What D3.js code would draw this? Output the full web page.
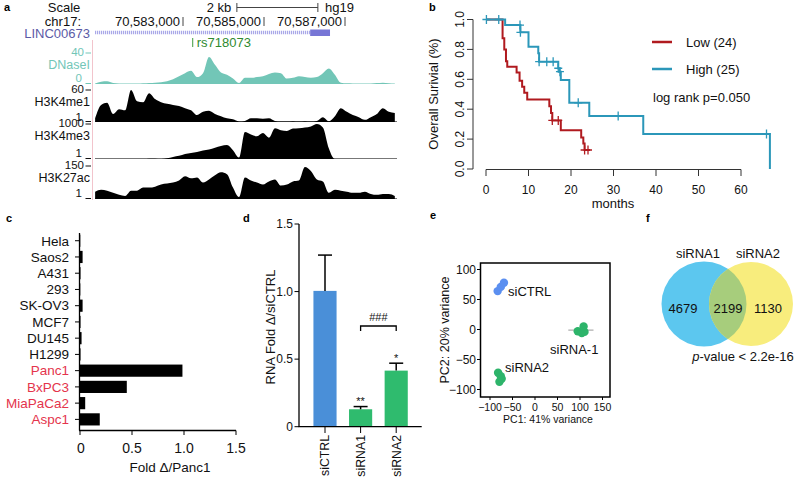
<!DOCTYPE html>
<html><head><meta charset="utf-8">
<script src="https://cdn.jsdelivr.net/npm/d3@7"></script>
<style>body{margin:0;background:#fff}svg{display:block}text{font-family:"Liberation Sans",Arial,sans-serif}</style>
</head><body><svg id="c" width="800" height="478"></svg>
<script>
// ================= DATA =================
// Panel a: genome browser
const genomeTicks = [70583000, 70585000, 70587000];
const binStart = 70580830, binSize = 148;
const scaleBar = [70584330, 70586330];
const gene = {name: "LINC00673", start: 70580600, exonStart: 70586140, end: 70586630};
const snp = {name: "rs718073", pos: 70583240};
const trackNames = ["DNaseI", "H3K4me1", "H3K4me3", "H3K27ac"];
const trackMax = [40, 60, 1000, 150];
const dnase = [0.6,3,3.5,1.2,0.6,0.6,0.6,0.6,0.9,1.2,1.7,2.3,3.5,6,10,14,17,9,14,35,25,15,12,7,1.2,8,8,9,10,13,15,14,7,8,10,9,8,9,14,20,12,1.7,0.9,0.7,0.7,0.6,0.7,1.2,1.7,0.9,0.6];
const h3k4me1 = [7,32,36,15,24,22,60,39,37,54,43,37,34,32,30,26,22,13,19,21,15,11,7,5,1,2,7,7,6,7,2,1,1,1.5,1,1.5,1,2,9,1.5,11,26,19,13,9,4,9,15,26,19,17];
const h3k4me3 = [0,0,0,0,0,0,0,0,0,10,10,0,20,60,90,140,170,200,240,270,320,370,400,250,40,770,700,650,740,610,880,820,800,870,880,900,930,1000,900,300,0,0,0,0,0,0,0,0,0,0,0];
const h3k27ac = [33,42,38,28,19,14,38,38,52,52,56,66,70,75,84,103,94,98,75,89,108,122,113,52,9,98,84,75,66,80,89,61,66,80,84,145,127,89,80,28,42,38,33,28,28,33,23,19,23,23,14];

// Panel b: Kaplan-Meier
const lowSteps = [[0,1],[3.9,0.875],[4.3,0.80],[4.7,0.72],[5.0,0.684],[7.2,0.645],[7.9,0.59],[8.5,0.55],[9.0,0.51],[9.7,0.465],[14.9,0.42],[15.3,0.375],[15.6,0.325],[17.6,0.26],[22.4,0.21],[22.9,0.17],[23.2,0.127],[24.5,0.127]];
const lowCensor = [[15.6,0.325],[17.0,0.325],[23.2,0.127],[24.0,0.127]];
const highSteps = [[0,1],[4.5,0.963],[8.1,0.914],[10.0,0.818],[12.3,0.774],[12.5,0.718],[17.0,0.674],[17.3,0.651],[17.6,0.595],[19.6,0.443],[24.3,0.355],[37.0,0.234],[66.8,0],[66.8,0]];
const highCensor = [[0.1,1],[3.0,1],[8.0,0.963],[8.1,0.914],[12.5,0.718],[14.3,0.718],[15.8,0.718],[17.0,0.674],[17.4,0.651],[21.7,0.443],[31.1,0.355],[66.0,0.234]];
const kmLegend = ["Low (24)", "High (25)"];
const kmTicksX = [0,10,20,30,40,50,60];
const kmTicksY = [0,0.2,0.4,0.6,0.8,1.0];

// Panel c: cell lines
const cellLines = ["Hela","Saos2","A431","293","SK-OV3","MCF7","DU145","H1299","Panc1","BxPC3","MiaPaCa2","Aspc1"];
const cellValues = [0.003,0.025,0.005,0.003,0.025,0.005,0.015,0.005,0.985,0.45,0.05,0.19];
const cellPancreatic = [false,false,false,false,false,false,false,false,true,true,true,true];
const cellTicks = [0,0.5,1.0,1.5];

// Panel d: knockdown
const kdGroups = ["siCTRL","siRNA1","siRNA2"];
const kdMeans = [1.005,0.129,0.415];
const kdErr = [0.265,0.02,0.055];
const kdStars = ["","**","*"];
const kdTicks = [0,0.5,1.0,1.5];

// Panel e: PCA
const pcaCTRL = [[-83,64],[-76,71],[-69,78]];
const pcaRNA1 = [[95,-3],[104,-6],[110,-4],[108,5]];
const pcaRNA2 = [[-82,-72],[-76,-78],[-79,-87],[-74,-82]];
const pcaTicksX = [-100,-50,0,50,100,150];
const pcaTicksY = [-100,-50,0,50,100];

// Panel f: Venn
const vennSets = ["siRNA1","siRNA2"];
const vennCounts = [4679, 2199, 1130];

// ================= DRAW =================
const svg = d3.select("#c");
svg.append("rect").attr("width",800).attr("height",478).attr("fill","#fff");
function T(g, x, y, s, o) {
  o = o || {};
  const t = g.append("text").attr("x", x).attr("y", y).text(s)
    .attr("font-size", o.size || 13).attr("fill", o.fill || "#111");
  if (o.anchor) t.attr("text-anchor", o.anchor);
  if (o.weight) t.attr("font-weight", o.weight);
  if (o.tr) t.attr("transform", o.tr);
  return t;
}
function letter(x, y, s) { T(svg, x, y, s, {size: 11, weight: "bold", fill: "#000"}); }

// ---------- Panel a ----------
(function(){
  const g = svg.append("g");
  const gx = d3.scaleLinear().domain([70583000, 70587000]).range([183, 345]);
  letter(4, 11, "a");
  T(g, 64, 11.5, "Scale", {anchor:"middle"});
  T(g, 219, 11.5, "2 kb", {anchor:"middle"});
  const sb0 = gx(scaleBar[0]), sb1 = gx(scaleBar[1]);
  g.append("line").attr("x1",sb0).attr("x2",sb1).attr("y1",7.5).attr("y2",7.5).attr("stroke","#444");
  [sb0, sb1].forEach(x => g.append("line").attr("x1",x).attr("x2",x).attr("y1",3).attr("y2",12).attr("stroke","#444"));
  T(g, 325, 11.5, "hg19");
  T(g, 81, 26, "chr17:", {anchor:"end"});
  genomeTicks.forEach(p => {
    T(g, gx(p) - 3, 26, d3.format(",")(p), {anchor:"end"});
    g.append("line").attr("x1",gx(p)).attr("x2",gx(p)).attr("y1",17).attr("y2",26).attr("stroke","#444");
  });
  // gene
  T(g, 90, 37.5, gene.name, {anchor:"end", fill:"#5b5aa6"});
  g.append("line").attr("x1",95).attr("x2",gx(gene.exonStart)).attr("y1",32.5).attr("y2",32.5)
    .attr("stroke","#a9a8e8").attr("stroke-width",3.5).attr("stroke-dasharray","1.2,0.8");
  g.append("rect").attr("x",gx(gene.exonStart)).attr("y",29.5).attr("width",gx(gene.end)-gx(gene.exonStart)).attr("height",6.5).attr("fill","#7776d6");
  // SNP
  g.append("line").attr("x1",gx(snp.pos)).attr("x2",gx(snp.pos)).attr("y1",38).attr("y2",47).attr("stroke","#3b9a3b");
  T(g, gx(snp.pos)+4, 47, snp.name, {fill:"#2f8a2f"});
  // pink axis line
  g.append("line").attr("x1",92.5).attr("x2",92.5).attr("y1",40).attr("y2",200).attr("stroke","#f2c4cc");
  // tracks
  const tracks = [dnase, h3k4me1, h3k4me3, h3k27ac];
  const tops = [53, 90, 124, 166];
  const bases = [84, 122, 159, 199];
  const maxY = [55.5, 92.5, 126.5, 168.5];
  const nameY = [69, 105.5, 140, 182];
  const lowY = [82, 121, 157, 197];
  const colors = ["#72c6b7", "#000", "#000", "#000"];
  const labCol = ["#72c6b7", "#111", "#111", "#111"];
  const lowLab = ["0","1","1","1"];
  tracks.forEach((vals, k) => {
    const ty = d3.scaleLinear().domain([0, trackMax[k]]).range([bases[k], tops[k]]).clamp(true);
    const area = d3.area().x((d,i) => gx(binStart + i*binSize)).y0(bases[k]).y1(d => ty(d)).curve(d3.curveMonotoneX);
    if (k > 0) g.append("line").attr("x1",95).attr("x2",397).attr("y1",bases[k]-0.5).attr("y2",bases[k]-0.5).attr("stroke","#777").attr("stroke-width",1);
    g.append("path").datum(vals).attr("d", area).attr("fill", colors[k]);
    T(g, 84, maxY[k], String(trackMax[k]), {anchor:"end", fill: labCol[k], size:11.5});
    g.append("line").attr("x1",85.5).attr("x2",91).attr("y1",tops[k]).attr("y2",tops[k]).attr("stroke",labCol[k]);
    T(g, 90, nameY[k], trackNames[k], {anchor:"end", fill: labCol[k], size:12.5});
    T(g, 82, lowY[k], lowLab[k], {anchor:"end", fill: labCol[k], size:11.5});
    g.append("line").attr("x1",85.5).attr("x2",91).attr("y1",bases[k]-0.5).attr("y2",bases[k]-0.5).attr("stroke",labCol[k]);
  });
})();

// ---------- Panel b ----------
(function(){
  const g = svg.append("g");
  letter(429, 11, "b");
  const sx = d3.scaleLinear().domain([0,60]).range([486,741]);
  const sy = d3.scaleLinear().domain([0,1]).range([169,19.5]);
  g.append("line").attr("x1",473).attr("x2",473).attr("y1",sy(0)).attr("y2",sy(1)).attr("stroke","#333");
  kmTicksY.forEach(v => {
    g.append("line").attr("x1",467).attr("x2",473).attr("y1",sy(v)).attr("y2",sy(v)).attr("stroke","#333");
    T(g, 0, 0, d3.format(".1f")(v), {anchor:"middle", size:12, tr:`translate(464,${sy(v)}) rotate(-90)`});
  });
  g.append("line").attr("x1",sx(0)).attr("x2",sx(60)).attr("y1",169.5).attr("y2",169.5).attr("stroke","#333");
  kmTicksX.forEach(v => {
    g.append("line").attr("x1",sx(v)).attr("x2",sx(v)).attr("y1",169.5).attr("y2",176).attr("stroke","#333");
    T(g, sx(v), 194, String(v), {anchor:"middle", size:12});
  });
  T(g, 0, 0, "Overall Surivial (%)", {anchor:"middle", size:13, tr:"translate(438,94) rotate(-90)"});
  T(g, 613, 208, "months", {anchor:"middle", size:13});
  const line = d3.line().x(d => sx(d[0])).y(d => sy(d[1])).curve(d3.curveStepAfter);
  const series = [[lowSteps, lowCensor, "#b01a1f"], [highSteps, highCensor, "#2b97b9"]];
  series.forEach(([st, cen, col]) => {
    g.append("path").datum(st).attr("d", line).attr("fill","none").attr("stroke",col).attr("stroke-width",2);
    cen.forEach(d => {
      const x = sx(d[0]), y = sy(d[1]);
      g.append("path").attr("d",`M${x-4},${y}H${x+4}M${x},${y-4.5}V${y+4.5}`).attr("stroke",col).attr("stroke-width",1.3);
    });
  });
  [["#b01a1f", 42, kmLegend[0]], ["#2b97b9", 69, kmLegend[1]]].forEach(([c, y, s]) => {
    g.append("line").attr("x1",652).attr("x2",672).attr("y1",y).attr("y2",y).attr("stroke",c).attr("stroke-width",2.5);
    T(g, 686, y + 4.5, s, {size:13});
  });
  T(g, 653, 102, "log rank p=0.050", {size:13});
})();

// ---------- Panel c ----------
(function(){
  const g = svg.append("g");
  letter(6, 222, "c");
  const x = d3.scaleLinear().domain([0,1.5]).range([80,236]);
  const y = d3.scaleBand().domain(cellLines).range([232.6,427.5]).paddingInner(0.25).paddingOuter(0.125);
  cellLines.forEach((c,i) => {
    g.append("rect").attr("x", x(0)).attr("y", y(c)).attr("width", x(cellValues[i]) - x(0)).attr("height", y.bandwidth()).attr("fill","#000");
    const cy = y(c) + y.bandwidth()/2;
    g.append("line").attr("x1",75).attr("x2",79.5).attr("y1",cy).attr("y2",cy).attr("stroke","#000");
    T(g, 69, cy + 4.8, c, {anchor:"end", size:13.5, fill: cellPancreatic[i] ? "#e4344c" : "#111"});
  });
  g.append("line").attr("x1",79.5).attr("x2",79.5).attr("y1",233).attr("y2",430.5).attr("stroke","#000").attr("stroke-width",1.3);
  g.append("line").attr("x1",79).attr("x2",236).attr("y1",430.5).attr("y2",430.5).attr("stroke","#000").attr("stroke-width",1.3);
  cellTicks.forEach(v => {
    g.append("line").attr("x1",x(v)).attr("x2",x(v)).attr("y1",430.5).attr("y2",435).attr("stroke","#000");
    T(g, x(v) + (v===0?1:0), 453, v===0 ? "0" : d3.format(".1f")(v), {anchor:"middle", size:14});
  });
  T(g, 170, 472, "Fold \u0394/Panc1", {anchor:"middle", size:13.5});
})();

// ---------- Panel d ----------
(function(){
  const g = svg.append("g");
  letter(243, 222, "d");
  const y = d3.scaleLinear().domain([0,1.5]).range([426.7,224]);
  const x = d3.scaleBand().domain(kdGroups).range([307.2,414]).paddingInner(0.35).paddingOuter(0.175);
  const cols = ["#4a8fd8", "#2fbb6e", "#2fbb6e"];
  kdGroups.forEach((k,i) => {
    const cx = x(k) + x.bandwidth()/2;
    g.append("rect").attr("x",x(k)).attr("y",y(kdMeans[i])).attr("width",x.bandwidth()).attr("height",y(0)-y(kdMeans[i])).attr("fill",cols[i]);
    const et = y(kdMeans[i] + kdErr[i]);
    g.append("line").attr("x1",cx).attr("x2",cx).attr("y1",y(kdMeans[i])).attr("y2",et).attr("stroke","#000").attr("stroke-width",1.5);
    g.append("line").attr("x1",cx-7).attr("x2",cx+7).attr("y1",et).attr("y2",et).attr("stroke","#000").attr("stroke-width",1.5);
    if (kdStars[i]) T(g, cx, et - 1.5, kdStars[i], {anchor:"middle", size:11});
    g.append("line").attr("x1",cx).attr("x2",cx).attr("y1",426.7).attr("y2",433).attr("stroke","#000");
    T(g, 0, 0, k, {anchor:"end", size:12.3, tr:`translate(${cx+4.3},435) rotate(-90)`});
  });
  g.append("line").attr("x1",299).attr("x2",299).attr("y1",y(1.5)).attr("y2",y(0)).attr("stroke","#000").attr("stroke-width",1.3);
  g.append("line").attr("x1",298.5).attr("x2",421.7).attr("y1",y(0)).attr("y2",y(0)).attr("stroke","#000").attr("stroke-width",1.3);
  kdTicks.forEach(v => {
    g.append("line").attr("x1",294.5).attr("x2",299).attr("y1",y(v)).attr("y2",y(v)).attr("stroke","#000");
    T(g, 293, y(v) + 4.3, v===0 ? "0" : d3.format(".1f")(v), {anchor:"end", size:12});
  });
  // bracket
  const b1 = x("siRNA1") + x.bandwidth()/2, b2 = x("siRNA2") + x.bandwidth()/2;
  g.append("path").attr("d",`M${b1},331V326H${b2}V331`).attr("fill","none").attr("stroke","#000").attr("stroke-width",1.3);
  T(g, (b1+b2)/2, 321, "###", {anchor:"middle", size:11});
  T(g, 0, 0, "RNA Fold \u0394/siCTRL", {anchor:"middle", size:13, tr:"translate(275,327) rotate(-90)"});
})();

// ---------- Panel e ----------
(function(){
  const g = svg.append("g");
  letter(430, 219, "e");
  const x = d3.scaleLinear().domain([-100,150]).range([490,602.5]);
  const y = d3.scaleLinear().domain([-100,100]).range([389.5,269.5]);
  g.append("rect").attr("x",480.5).attr("y",263).attr("width",129.5).attr("height",134).attr("fill","none").attr("stroke","#000").attr("stroke-width",1.5);
  pcaTicksY.forEach(v => {
    g.append("line").attr("x1",477).attr("x2",480.5).attr("y1",y(v)).attr("y2",y(v)).attr("stroke","#000");
    T(g, 476, y(v) + 4.3, d3.format("")(v), {anchor:"end", size:12});
  });
  pcaTicksX.forEach(v => {
    g.append("line").attr("x1",x(v)).attr("x2",x(v)).attr("y1",397).attr("y2",400).attr("stroke","#000");
    T(g, x(v), 411, d3.format("")(v), {anchor:"middle", size:10.5});
  });
  T(g, 548, 423, "PC1: 41% variance", {anchor:"middle", size:10.5});
  T(g, 0, 0, "PC2: 20% variance", {anchor:"middle", size:12.5, tr:"translate(449,330) rotate(-90)"});
  g.append("line").attr("x1",x(74)).attr("x2",x(130)).attr("y1",y(-1)).attr("y2",y(-1)).attr("stroke","#999").attr("stroke-width",1);
  [[pcaCTRL,"#5b8ff0"],[pcaRNA1,"#2db46a"],[pcaRNA2,"#2db46a"]].forEach(([pts,c]) => {
    pts.forEach(p => g.append("circle").attr("cx",x(p[0])).attr("cy",y(p[1])).attr("r",4.2).attr("fill",c));
  });
  T(g, 508, 296, "siCTRL", {size:13});
  T(g, 550, 354, "siRNA-1", {size:13});
  T(g, 505, 372, "siRNA2", {size:13});
})();

// ---------- Panel f ----------
(function(){
  const g = svg.append("g");
  letter(646, 222, "f");
  const c1 = {x:704, y:304, r:42.5}, c2 = {x:751, y:304, r:42};
  g.append("defs").append("clipPath").attr("id","clipA").append("circle").attr("cx",c1.x).attr("cy",c1.y).attr("r",c1.r);
  g.append("circle").attr("cx",c1.x).attr("cy",c1.y).attr("r",c1.r).attr("fill","#5cc7ef");
  g.append("circle").attr("cx",c2.x).attr("cy",c2.y).attr("r",c2.r).attr("fill","#f8ed7d");
  g.append("circle").attr("cx",c2.x).attr("cy",c2.y).attr("r",c2.r).attr("fill","#a7cd7c").attr("clip-path","url(#clipA)");
  T(g, 698, 258, vennSets[0], {anchor:"middle", size:13});
  T(g, 758, 258, vennSets[1], {anchor:"middle", size:13});
  [683, 728, 768].forEach((cx,i) => T(g, cx, 313, String(vennCounts[i]), {anchor:"middle", size:13}));
  const t = g.append("text").attr("x",743).attr("y",361).attr("text-anchor","middle").attr("font-size",13).attr("fill","#111");
  t.append("tspan").attr("font-style","italic").text("p");
  t.append("tspan").text("-value < 2.2e-16");
})();
</script>
</body></html>
